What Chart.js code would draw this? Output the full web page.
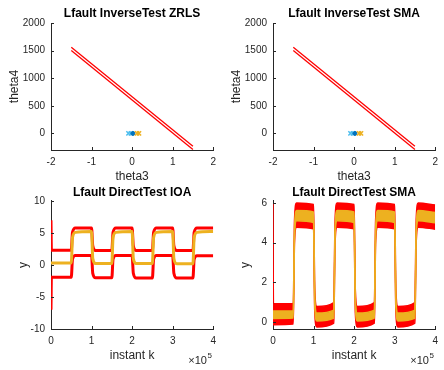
<!DOCTYPE html>
<html>
<head>
<meta charset="utf-8">
<script src="https://cdn.jsdelivr.net/npm/chart.js@4.4.1/dist/chart.umd.min.js"></script>
<style>
  html, body { margin: 0; padding: 0; background: #fff; }
  #fig { position: relative; width: 444px; height: 370px; }
  canvas { position: absolute; }
</style>
</head>
<body>
<div id="fig">
  <canvas id="zrls" width="222" height="185" style="left:0;top:0"></canvas>
  <canvas id="smaInv" width="222" height="185" style="left:222px;top:0"></canvas>
  <canvas id="ioa" width="222" height="185" style="left:0;top:185px"></canvas>
  <canvas id="smaDir" width="222" height="185" style="left:222px;top:185px"></canvas>
</div>
<script>
// ---- inverse test: feasible-set boundary lines + estimates ----
const lineTheta3 = [-1.5, 1.5];
const lineUpperTheta4 = [1560, -230];
const lineLowerTheta4 = [1500, -290];
const tealTheta3 = [-0.09, -0.03];
const tealTheta4 = [0, 0];
const blueTheta3 = [0.02];
const blueTheta4 = [0];
const orangeTheta3 = [0.12, 0.17];
const orangeTheta4 = [0, 0];
const theta3Ticks = [-2, -1, 0, 1, 2];
const theta4Ticks = [0, 500, 1000, 1500, 2000];

// ---- direct test IOA ----
const kIOA = [0, 1000, 50000, 53000, 60000, 100000, 103000, 110000, 150000, 153000, 160000, 200000,
  203000, 210000, 250000, 253000, 260000, 300000, 303000, 310000, 350000, 353000, 360000, 400000];
const ioaUpper = [7, 2.3, 2.3, 5.1, 5.8, 5.8, 3.0, 2.25, 2.25, 5.1, 5.8, 5.8,
  3.0, 2.25, 2.25, 5.1, 5.8, 5.8, 3.0, 2.25, 2.25, 5.1, 5.8, 5.8];
const ioaOutput = [0.3, 0.3, 0.3, 4.3, 5.1, 5.25, 1.0, 0.25, 0.25, 4.3, 5.1, 5.25,
  1.0, 0.25, 0.25, 4.3, 5.1, 5.25, 1.0, 0.2, 0.2, 4.3, 5.1, 5.25];
const ioaLower = [-7, -1.9, -1.9, 0.9, 1.5, 1.5, -1.3, -2.0, -2.0, 0.9, 1.5, 1.5,
  -1.3, -2.05, -2.05, 0.9, 1.5, 1.5, -1.3, -2.05, -2.05, 0.9, 1.45, 1.45];
const ioaYTicks = [-10, -5, 0, 5, 10];

// ---- direct test SMA (noisy bands: edges from top to bottom) ----
const kSMA = [0, 1000, 50000, 53000, 58000, 100000, 103000, 108000, 150000, 153000, 158000, 200000,
  203000, 208000, 250000, 253000, 258000, 300000, 303000, 308000, 350000, 353000, 358000, 400000];
const smaRedTop = [6.0, 0.92, 0.92, 5.1, 6.0, 5.92, 1.6, 0.78, 0.98, 5.1, 6.0, 5.92,
  1.6, 0.78, 0.98, 5.1, 6.0, 5.92, 1.6, 0.78, 0.98, 5.1, 6.0, 5.9];
const smaOrangeTop = [0.56, 0.56, 0.56, 4.7, 5.62, 5.55, 1.2, 0.45, 0.6, 4.7, 5.62, 5.55,
  1.2, 0.45, 0.6, 4.7, 5.62, 5.55, 1.2, 0.45, 0.6, 4.7, 5.62, 5.52];
const smaOrangeBottom = [0.18, 0.18, 0.2, 4.3, 5.1, 5.02, 0.8, 0.05, 0.2, 4.3, 5.1, 5.02,
  0.8, 0.05, 0.2, 4.3, 5.1, 5.02, 0.8, 0.05, 0.2, 4.3, 5.1, 5.0];
const smaRedBottom = [-0.13, -0.13, -0.1, 4.0, 4.78, 4.7, 0.5, -0.25, -0.05, 4.0, 4.78, 4.7,
  0.5, -0.25, -0.05, 4.0, 4.78, 4.7, 0.5, -0.25, -0.05, 4.0, 4.78, 4.68];
const smaYTicks = [0, 2, 4, 6];
const kTicks = [0, 100000, 200000, 300000, 400000];

const AX = '#262626';
const RED = '#ff0000';
const ORANGE = '#EDB120';
const FONT = '"Liberation Sans", Arial, Helvetica, sans-serif';

const pts = (xs, ys) => xs.map((x, i) => ({ x: x, y: ys[i] }));

// MATLAB-like inward tick marks
const inTicks = {
  id: 'inTicks',
  afterDraw(chart) {
    const { ctx, chartArea: a, scales: { x, y } } = chart;
    ctx.save();
    ctx.strokeStyle = AX;
    ctx.lineWidth = 1;
    ctx.beginPath();
    x.ticks.forEach(t => {
      const p = Math.round(x.getPixelForValue(t.value)) + 0.5;
      ctx.moveTo(p, a.bottom); ctx.lineTo(p, a.bottom - 3);
    });
    y.ticks.forEach(t => {
      const p = Math.round(y.getPixelForValue(t.value)) + 0.5;
      ctx.moveTo(a.left, p); ctx.lineTo(a.left + 3, p);
    });
    ctx.stroke();
    ctx.restore();
  }
};

// x10^5 exponent under the x axis
const expLabel = {
  id: 'expLabel',
  afterDraw(chart) {
    const { ctx, chartArea: a } = chart;
    ctx.save();
    ctx.fillStyle = AX;
    ctx.textAlign = 'left';
    ctx.textBaseline = 'middle';
    ctx.font = '11px ' + FONT;
    const x0 = a.right - 25;
    ctx.fillText('\u00d710', x0, a.bottom + 32);
    const w = ctx.measureText('\u00d710').width;
    ctx.font = '8px ' + FONT;
    ctx.fillText('5', x0 + w + 0.5, a.bottom + 27);
    ctx.restore();
  }
};

function axes(o) {
  return {
    x: {
      type: 'linear', min: o.xMin, max: o.xMax,
      afterBuildTicks: s => { s.ticks = o.xTicks.map(v => ({ value: v })); },
      afterFit: s => { s.height = o.xH; },
      grid: { display: false, drawTicks: false },
      border: { display: true, color: AX, width: 1 },
      ticks: { color: AX, font: { family: FONT, size: 10 }, padding: 6, maxRotation: 0, autoSkip: false,
        callback: o.xFmt || (v => String(v)) },
      title: { display: true, text: o.xTitle, color: AX, font: { family: FONT, size: 12 },
        padding: { top: 0, bottom: o.xTitlePad } }
    },
    y: {
      type: 'linear', min: o.yMin, max: o.yMax,
      afterBuildTicks: s => { s.ticks = o.yTicks.map(v => ({ value: v })); },
      afterFit: s => { s.width = 51; },
      grid: { display: false, drawTicks: false },
      border: { display: true, color: AX, width: 1 },
      ticks: { color: AX, font: { family: FONT, size: 10 }, padding: 6, autoSkip: false,
        callback: v => String(v) },
      title: { display: true, text: o.yTitle, color: AX, font: { family: FONT, size: 12 },
        padding: { top: o.yTitlePad, bottom: 0 } }
    }
  };
}

function titleOpts(text, top) {
  return { display: true, fullSize: false, text: text, color: '#000',
    font: { family: FONT, size: 12, weight: 'bold' }, padding: { top: top, bottom: top ? 2.6 : 1.6 } };
}

function inverseChart(id, title) {
  new Chart(document.getElementById(id), {
    type: 'scatter',
    data: {
      datasets: [
        { data: pts(orangeTheta3, orangeTheta4), pointStyle: 'crossRot', pointRadius: 3,
          borderColor: ORANGE, borderWidth: 1.5 },
        { data: pts(blueTheta3, blueTheta4), pointStyle: 'circle', pointRadius: 2,
          backgroundColor: '#0072BD', borderColor: '#0072BD', borderWidth: 1 },
        { data: pts(tealTheta3, tealTheta4), pointStyle: 'crossRot', pointRadius: 3,
          borderColor: '#4DBEEE', borderWidth: 1.5 },
        { data: pts(lineTheta3, lineUpperTheta4), showLine: true, pointRadius: 0,
          borderColor: RED, borderWidth: 1.3 },
        { data: pts(lineTheta3, lineLowerTheta4), showLine: true, pointRadius: 0,
          borderColor: RED, borderWidth: 1.3 }
      ]
    },
    options: {
      responsive: false, animation: false,
      layout: { padding: { left: 0, right: 3, top: 0, bottom: 0 } },
      plugins: { legend: { display: false }, tooltip: { enabled: false }, title: titleOpts(title, 6) },
      scales: axes({ xMin: -2, xMax: 2, xTicks: theta3Ticks, xH: 35, xTitle: 'theta3', xTitlePad: 1,
        yMin: -300, yMax: 2000, yTicks: theta4Ticks, yTitle: 'theta4', yTitlePad: 7 })
    },
    plugins: [inTicks]
  });
}

inverseChart('zrls', 'Lfault InverseTest ZRLS');
inverseChart('smaInv', 'Lfault InverseTest SMA');

const kFmt = v => String(v / 100000);

new Chart(document.getElementById('ioa'), {
  type: 'scatter',
  data: {
    datasets: [
      { data: pts(kIOA, ioaOutput), showLine: true, pointRadius: 0, borderColor: ORANGE, borderWidth: 3,
        cubicInterpolationMode: 'monotone' },
      { data: pts(kIOA, ioaUpper), showLine: true, pointRadius: 0, borderColor: RED, borderWidth: 3,
        cubicInterpolationMode: 'monotone' },
      { data: pts(kIOA, ioaLower), showLine: true, pointRadius: 0, borderColor: RED, borderWidth: 3,
        cubicInterpolationMode: 'monotone' }
    ]
  },
  options: {
    responsive: false, animation: false,
    layout: { padding: { left: 0, right: 3, top: 0, bottom: 0 } },
    plugins: { legend: { display: false }, tooltip: { enabled: false }, title: titleOpts('Lfault DirectTest IOA', 0) },
    scales: axes({ xMin: 0, xMax: 400000, xTicks: kTicks, xFmt: kFmt, xH: 41, xTitle: 'instant k', xTitlePad: 7,
      yMin: -10, yMax: 10, yTicks: ioaYTicks, yTitle: 'y', yTitlePad: 16 })
  },
  plugins: [inTicks, expLabel]
});

new Chart(document.getElementById('smaDir'), {
  type: 'scatter',
  data: {
    datasets: [
      { data: pts(kSMA, smaOrangeTop), showLine: true, pointRadius: 0, borderColor: ORANGE, borderWidth: 1.5,
        backgroundColor: ORANGE, fill: '+1', cubicInterpolationMode: 'monotone' },
      { data: pts(kSMA, smaOrangeBottom), showLine: true, pointRadius: 0, borderColor: ORANGE, borderWidth: 1.5,
        cubicInterpolationMode: 'monotone' },
      { data: pts(kSMA, smaRedTop), showLine: true, pointRadius: 0, borderColor: RED, borderWidth: 1.5,
        backgroundColor: RED, fill: '+1', cubicInterpolationMode: 'monotone' },
      { data: pts(kSMA, smaRedBottom), showLine: true, pointRadius: 0, borderColor: RED, borderWidth: 1.5,
        cubicInterpolationMode: 'monotone' }
    ]
  },
  options: {
    responsive: false, animation: false,
    layout: { padding: { left: 0, right: 3, top: 0, bottom: 0 } },
    plugins: { legend: { display: false }, tooltip: { enabled: false }, title: titleOpts('Lfault DirectTest SMA', 0) },
    scales: axes({ xMin: 0, xMax: 400000, xTicks: kTicks, xFmt: kFmt, xH: 41, xTitle: 'instant k', xTitlePad: 7,
      yMin: -0.35, yMax: 6.1, yTicks: smaYTicks, yTitle: 'y', yTitlePad: 16 })
  },
  plugins: [inTicks, expLabel]
});
</script>
</body>
</html>
